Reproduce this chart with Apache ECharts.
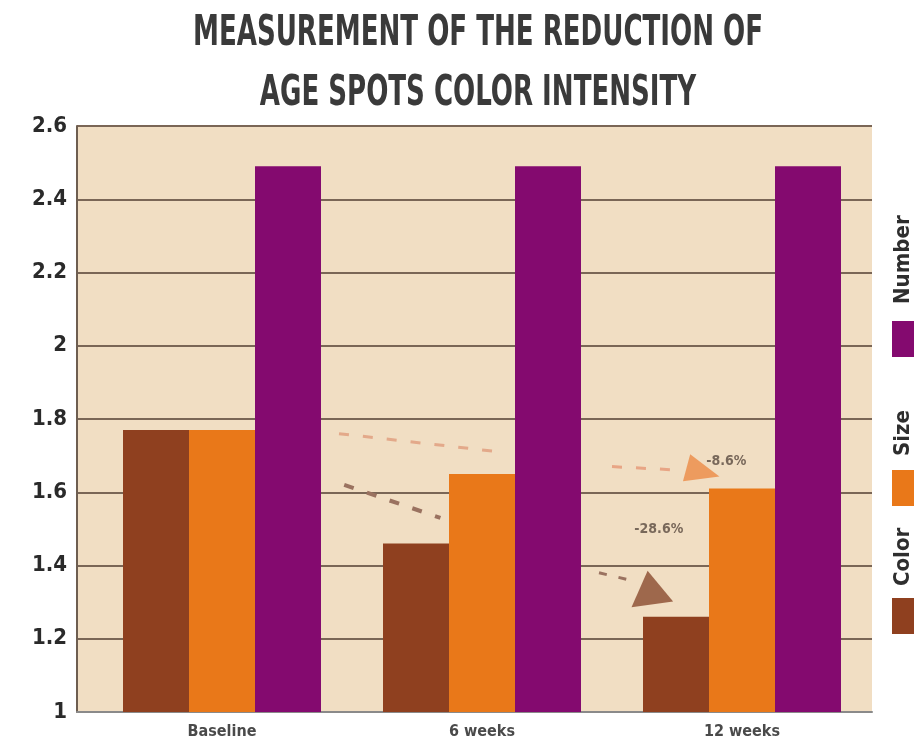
<!DOCTYPE html>
<html><head><meta charset="utf-8">
<script src="https://cdn.jsdelivr.net/npm/echarts@6/dist/echarts.min.js"></script>
<style>html,body{margin:0;padding:0;background:#fff}#c{width:920px;height:752px}</style>
</head><body><div id="c"></div>
<script>
var categories = ['Baseline', '6 weeks', '12 weeks'];
var colorValues = [1.77, 1.46, 1.26];
var sizeValues = [1.77, 1.65, 1.61];
var numberValues = [2.49, 2.49, 2.49];
var yTicks = [1, 1.2, 1.4, 1.6, 1.8, 2, 2.2, 2.4, 2.6];
// annotation trend lines (x in category units, y in value units)
var sizeTrend6 = [[0.95, 1.76], [1.57, 1.71]];
var colorTrend6 = [[0.97, 1.62], [1.34, 1.53]];
var sizeTrend12 = [[2.0, 1.67], [2.27, 1.66]];
var colorTrend12 = [[1.95, 1.38], [2.07, 1.36]];
var sizeArrow = [[2.35, 1.655]];
var colorArrow = [[2.146, 1.34]];
var sizeLabel = [[2.44, 1.685, '-8.6%']];
var colorLabel = [[2.18, 1.50, '-28.6%']];
var titleLines = ['MEASUREMENT OF THE REDUCTION OF', 'AGE SPOTS COLOR INTENSITY'];

var FONT = "'DejaVu Sans Condensed','Liberation Sans',sans-serif";
var cBrown = '#8f401f', cOrange = '#e97819', cPurple = '#840a6f';

var chart = echarts.init(document.getElementById('c'));
function labelSeries(data) {
  return {type: 'scatter', xAxisIndex: 2, yAxisIndex: 2, data: data, symbol: 'circle', symbolSize: 1,
    itemStyle: {color: 'rgba(0,0,0,0)'}, z: 5,
    label: {show: true, position: 'inside', formatter: function (p) { return p.data[2]; },
      fontFamily: FONT, fontSize: 14, fontWeight: 'bold', color: '#5a4a40'}};
}
chart.setOption({
  backgroundColor: '#ffffff',
  animation: false,
  grid: [
    {left: 77, right: 48, top: 126, bottom: 40, show: true, backgroundColor: '#f1dec3', borderWidth: 0},
    {left: 92, right: 48, top: 126, bottom: 40},
    {left: 92, right: 48, top: 126, bottom: 40}
  ],
  xAxis: [
    {gridIndex: 0, type: 'category', data: categories, axisLine: {show: true, lineStyle: {color: '#8a8a8a', width: 2}},
     axisTick: {show: false}, axisLabel: {show: false}},
    {gridIndex: 1, type: 'category', data: categories,
     axisLine: {show: false}, axisTick: {show: false},
     axisLabel: {fontFamily: FONT, fontSize: 16, color: '#4a4a4a', fontWeight: 'bold', margin: 12}},
    {gridIndex: 2, type: 'value', min: 0, max: 3, show: false}
  ],
  yAxis: [
    {gridIndex: 0, type: 'value', min: 1, max: 2.6, interval: 0.2,
     axisLine: {show: true, lineStyle: {color: '#6e5e50', width: 2}},
     axisTick: {show: false},
     splitLine: {show: true, lineStyle: {color: '#7a6656', width: 2}},
     axisLabel: {fontFamily: FONT, fontSize: 22, fontWeight: 'bold', color: '#2a2a2a', margin: 10,
       formatter: function (v) { var t = yTicks.filter(function (x) { return Math.abs(x - v) < 1e-6; }); return t.length ? String(t[0]) : ''; }}},
    {gridIndex: 1, type: 'value', min: 1, max: 2.6, interval: 0.2, show: false},
    {gridIndex: 2, type: 'value', min: 1, max: 2.6, show: false}
  ],
  series: [
    {name: 'Color', type: 'bar', xAxisIndex: 1, yAxisIndex: 1, data: colorValues, barWidth: 66, barGap: '0%', itemStyle: {color: cBrown}},
    {name: 'Size', type: 'bar', xAxisIndex: 1, yAxisIndex: 1, data: sizeValues, barWidth: 66, barGap: '0%', itemStyle: {color: cOrange}},
    {name: 'Number', type: 'bar', xAxisIndex: 1, yAxisIndex: 1, data: numberValues, barWidth: 66, barGap: '0%', itemStyle: {color: cPurple}},
    {type: 'line', xAxisIndex: 2, yAxisIndex: 2, data: sizeTrend6, symbol: 'none', lineStyle: {color: '#e3a98a', width: 3, type: [10, 14]}},
    {type: 'line', xAxisIndex: 2, yAxisIndex: 2, data: colorTrend6, symbol: 'none', lineStyle: {color: '#9a7260', width: 4, type: [10, 14]}},
    {type: 'line', xAxisIndex: 2, yAxisIndex: 2, data: sizeTrend12, symbol: 'none', lineStyle: {color: '#e8a585', width: 3, type: [10, 14]}},
    {type: 'line', xAxisIndex: 2, yAxisIndex: 2, data: colorTrend12, symbol: 'none', lineStyle: {color: '#9a7260', width: 3, type: [8, 12]}},
    {type: 'scatter', xAxisIndex: 2, yAxisIndex: 2, data: sizeArrow, symbol: 'triangle', symbolSize: [28, 34], symbolRotate: -105, itemStyle: {color: '#ec8a45'}},
    {type: 'scatter', xAxisIndex: 2, yAxisIndex: 2, data: colorArrow, symbol: 'triangle', symbolSize: [42, 34], symbolRotate: 8, itemStyle: {color: '#8a4a2e'}},
    labelSeries(sizeLabel),
    labelSeries(colorLabel)
  ],
  graphic: [
    {type: 'text', x: 478, y: 34, scaleX: 0.69,
     style: {text: titleLines[0], fontFamily: FONT, fontSize: 42, fontWeight: 'bold', fill: '#3a3a3a', textAlign: 'center', textVerticalAlign: 'middle'}},
    {type: 'text', x: 478, y: 94, scaleX: 0.69,
     style: {text: titleLines[1], fontFamily: FONT, fontSize: 42, fontWeight: 'bold', fill: '#3a3a3a', textAlign: 'center', textVerticalAlign: 'middle'}},
    {
    type: 'group', x: 903, y: 640, rotation: Math.PI / 2,
    children: [
      {type: 'rect', shape: {x: 6, y: -11, width: 36, height: 22}, style: {fill: cBrown}},
      {type: 'text', x: 54, y: 0, style: {text: 'Color', fontFamily: FONT, fontSize: 22, fontWeight: 'bold', fill: '#2e2e2e', verticalAlign: 'middle'}},
      {type: 'rect', shape: {x: 134, y: -11, width: 36, height: 22}, style: {fill: cOrange}},
      {type: 'text', x: 184, y: 0, style: {text: 'Size', fontFamily: FONT, fontSize: 22, fontWeight: 'bold', fill: '#2e2e2e', verticalAlign: 'middle'}},
      {type: 'rect', shape: {x: 283, y: -11, width: 36, height: 22}, style: {fill: cPurple}},
      {type: 'text', x: 336, y: 0, style: {text: 'Number', fontFamily: FONT, fontSize: 22, fontWeight: 'bold', fill: '#2e2e2e', verticalAlign: 'middle'}}
    ]
  }]
});
</script></body></html>
